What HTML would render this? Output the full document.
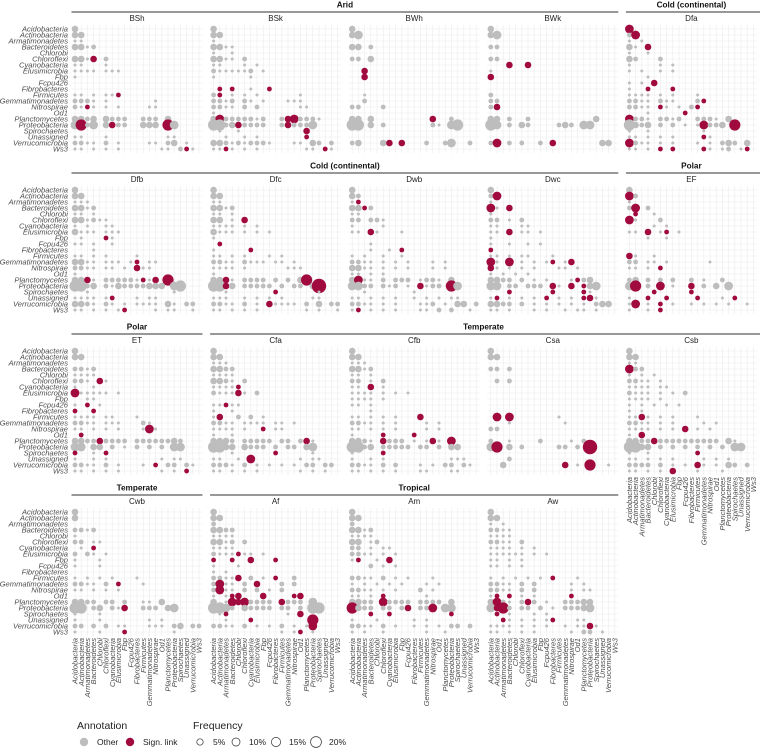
<!DOCTYPE html>
<html><head><meta charset="utf-8">
<style>
html,body{margin:0;padding:0;background:#fff;}
svg{display:block;font-family:"Liberation Sans",sans-serif;}
.rl{font-size:7.6px;font-style:italic;fill:#4d4d4d;}
.st{font-size:8px;fill:#222;}
.gt{font-size:8.2px;font-weight:bold;fill:#111;}
.lg{font-size:10.5px;fill:#222;}
.lt{font-size:8.5px;fill:#222;}
</style></head>
<body>
<svg id="chart" width="760" height="748" viewBox="0 0 760 748">
<g id="root"></g>
</svg>
<script>
const taxa = ["Acidobacteria","Actinobacteria","Armatimonadetes","Bacteroidetes","Chlorobi","Chloroflexi","Cyanobacteria","Elusimicrobia","Fbp","Fcpu426","Fibrobacteres","Firmicutes","Gemmatimonadetes","Nitrospirae","Od1","Planctomycetes","Proteobacteria","Spirochaetes","Unassigned","Verrucomicrobia","Ws3"];
const panelNames = ["BSh","BSk","BWh","BWk","Dfa","Dfb","Dfc","Dwb","Dwc","EF","ET","Cfa","Cfb","Csa","Csb","Cwb","Af","Am","Aw"];
const groupRows = [
 [["Arid",0,3],["Cold (continental)",4,4]],
 [["Cold (continental)",0,3],["Polar",4,4]],
 [["Polar",0,0],["Temperate",1,4]],
 [["Temperate",0,0],["Tropical",1,3]]
];
const legendFreq = ["5%","10%","15%","20%"];
// cell codes: '.' none, '1'-'6' grey size level, 'a'-'f' significant (red) size level
const BSh = ["3","33","11","3312","","331c.2","11...1","1111.111","1","","","11.1.11b","2221.1.......1","21b1.1.1....11","","3323.3222..222.3","4e24.3c22..333.e4","","11...1.........11","2211.2.1....11.23.1","11.1.1.1......11.2b1"];
const BSk = ["3","33","1","3311","1..1","3311.2","11...1.1","2111112.1","1.....1","",".b.b..1..b","2b.1.1.1......1","2212.21.1...111","2211.2.2......11","1","3d2222212..2cd2221","5523c2222..2c2224",".1..1..........c","..1..1.1.......b","3321212221...11.32.2","11b1.1.1.......11.b1"];
const BWh = ["3","34","","33.2","","22.3","","..c","..c","","","..1","..2","22...2","","33.3.........c..2","55.3.2.......21.45","","","23...3c.c...2..24..2",""];
const BWk = ["3","34","","22","","22","...c..c","1","c","","","2","22","2c","","33.2..2..........3","54.2.32....232.44","","","2d.2.2..2.c.......33.",""];
const Dfa = ["d","2d","1.1","31.c","1..1","32...2","1....1.1","1.1..1.1","...1","1.1.c","1..b...b","1111.1.1...1","2211.211...2b","2211.b1.1.2b","...1.....b","d221.2212..2221.3","5323.2.2.1.1d223.e","1..1........1","11.1.1.1....b1","d211.1.1...1.1.232.3","11.1.b.b....b1.12.1b"];
const Dfb = ["3","33","111","3312","11.1","331211","1.1..11","3111.111",".1...b1","11.1..1","...1","11.1.1....1","3311.111.1b.11","2211.11.1.c11","1","33c1.222221b1c.e","5523.2132222333.45","..1.............1","1111.1b...1.11","3321.21.1.1111.31.22","11.1.1.1b....1.11..1"];
const Dfc = ["3","33","11","3312","11.1","33.1.c","1111.1.1","3111.1.1.1","1",".b","1.....b","11.1.1...1.1","2211.2111.11.1","1111.1......111","1","33c1.2222.2.2.3e","55c3.22222.2.22.3f","..1.......b......1","111..1.1.1.1....11","2211.2.1.c1111.2.3.22","11.1.1.1.......1.1..1"];
const Dwb = ["3","32","1b","33b2","11","22.221","1....1","11.c1...1","","...1","...1..1.b","1.1..1..1","2211.1.1.1...1.1","3311.1.1.1...1.1","11.1.1","3d11.2.222.1221.3","4422.212.1.c122.e4","..1.......1","11.1.1.1..1.1.1.11","2211.1.1...112.1.33.2","1b.1.1.1...11.2.2..1"];
const Dwc = ["3","2d","1","d1.c","1","22.1.2","11...11","11.c.11.1","1","1..1..1.1","b","11.1.11...1","d1.d.1.1.1b.1c","c1.1.1.1...11.1","1.1.1.1","3322.2.1.1...1b23","44.22.222.c1.c.b34","...b......b....b1","1b.1.1.1.b.1.1.bc1","3322.2.1.1.1.1.1.233.","11.1...1.1..1.11.1"];
const EF = ["3","d2","1","2d.2",".b..1","d1...2","....1.1","11.c.1b.1","...1..1","","","c1..1","22.11.1......1","11.1.b","","23.2.2.2..2.1..2","4e.2.d.1..c.2.3.4","....b.....b","1..b..b....b...1.b","1d.1.b.1..1.1.1.1..1","1..1.b"];
const ET = ["3","33","","2212","1111","221.c1","1..1","d11111.1","..11","1.b.1","b..b","1111.11...1","2211.111...21","11.1.1.1...1d1",".b","3322c2222.22222232","44.33.2.1.2.2.2.44","b..1.b","1..1.1........1.11","2211.2.1...1.b.22.21","11.1.1.1......1.1.b"];
const Cfa = ["3","33","111","3322","1111","3321.2","1111b","2111c1.2","","11b11","1..1","1c..2.2.1","2211.1111.11.1","1111.1..b.11","1..1","3332.22222.22.2c1","5533.3222.2.22.34","...1......b.....1","11..1.d.......1.11","2221.2.1.1.1.1.22.22","11.1.1.1......1.1.1"];
const Cfb = ["3","33","111","3312","11.1","22.1.2","11.c.1","1111.1.1.1","1111.1","11.1","...1","11.1.1.1...c","2211.1.1....1.1","11.1.1.1....1.1","1....b....b","3321.c222.1.1c1.d","5523.22222.22.2.33","1....b","1..1.1..........111","2211.2.2...1.1.22.21","11.1.1.1...11...11"];
const Csa = ["3","33","","22.2","",".2.2","","","","","",".d.d.......1","...1........1","22","","2..1....2....1.2","4e.3.2.....22.2.f","","...2","..3.........c.1.e..1",""];
const Csb = ["3","33","11","d22","1.1.1","2211.1","1111.11","2111.1.1.2","1111.1","1.1.1.1.1","1.1","11c1.1.1...1","2211.1.1....1.1","1111.1.1.c.1.1","1.c","3322c2222222222.31","5533.2.2.2.2.2.2.44","1..1.......b","11.1.1.1....1.1.1","2222.2.1.1.c1.1.32.2","11.1.1.c...1...1"];
const Cwb = ["3","3","","2212","1","22.11",".1.b","2.21.1","1...1","1...1","","1.1.1.1...1","2211.2.b...1","11.1.1.1","","3322.22.2..11.3","55.23.21c..222.34","1...1","1...1.......1.1","22.2.2.11...111.23.22","1...1...b.......1"];
const Af = ["3","33","2","3322","1111","3312.2","1111","2111b11.1","b..b..c...b","1...1","1.1","2211c.2.1.b..2","2d11.2.c...2.2","2d11.2.2.1.2","1.1bc...c....bc","3.1dcd2222.c222.4","5542.32222.22.2.55",".1b.........1.c","..1...b.........e","2211.2.1.1.2.1.1d","...........1.1b.1"];
const Am = ["3","33","2","3312","1111","33.12","22.1.11","2211.1.1","1b..1.c","...2.1.1","","2211.2.1.1...1","1.1.1.1.1...1.1","2211.1.1...2.1","11.1.b......1","3322.d2222.2222.3","e322.22.2c.22d.44","...b..b.........b","1...1.....1.1","2211.2.1..1.1.1.22.2","1.1..1......1..1"];
const Aw = ["3","33","1.1","2211","1111","2211.2","1111.1.1","111111.1.1","11.1.1","11.1.1","","1.1.1.1.1.b...1","2211.2.2.....1.1","2211.2.2.....1.11","1b.b.1.1.....b","3d21.2c2.1..22233","4ce2.22.2.1.22234",".b.1...1.1","..b1.1.1.1b...11","1111.1.1.1..1.11c1","11.1.1.1.....1.22.1"];
const panelData = [BSh,BSk,BWh,BWk,Dfa,Dfb,Dfc,Dwb,Dwc,EF,ET,Cfa,Cfb,Csa,Csb,Cwb,Af,Am,Aw];

const NS = "http://www.w3.org/2000/svg";
const root = document.getElementById("root");
const GREY = "#bdbdbd", RED = "#a10a3e";
const radius = [0, 1.5, 2.4, 3.3, 4.4, 5.6, 7.2];
const PX0 = 75, PDX = 138.6, CDX = 6.2, PY0 = 29, PDY = 161, RDY = 6.0;
function colX(p, j){ return PX0 + (p % 5) * PDX + j * CDX; }
function rowY(p, i){ return PY0 + Math.floor(p / 5) * PDY + i * RDY; }
function mk(tag, attrs, parent){
  const e = document.createElementNS(NS, tag);
  for (const k in attrs) e.setAttribute(k, attrs[k]);
  (parent || root).appendChild(e);
  return e;
}

panelData.forEach((rows, p) => {
  const g = mk("g", {});
  
  
  const x0 = colX(p, 0) - 3.5, x1 = colX(p, 20) + 3.5;
  const y0 = rowY(p, 0) - 4, y1 = rowY(p, 20) + 4;
  for (let j = 0; j < 21; j++) mk("line", {x1: colX(p, j), x2: colX(p, j), y1: y0, y2: y1, stroke: "#ebebeb", "stroke-width": 0.6}, g);
  for (let i = 0; i < 21; i++) mk("line", {x1: x0, x2: x1, y1: rowY(p, i), y2: rowY(p, i), stroke: "#ebebeb", "stroke-width": 0.6}, g);
  const st = mk("text", {x: (x0 + x1) / 2, y: rowY(p, 0) - 8, "text-anchor": "middle", class: "st"}, g);
  st.textContent = panelNames[p];
  
  
  rows.forEach((s, i) => {
    for (let j = 0; j < s.length && j < 21; j++) {
      const ch = s[j];
      if (ch === '.' || ch === ' ') continue;
      let lvl, col;
      if (ch >= '1' && ch <= '6') { lvl = +ch; col = GREY; }
      else { lvl = ch.charCodeAt(0) - 96; col = RED; }
      const c = mk("circle", {cx: colX(p, j), cy: rowY(p, i), r: radius[lvl], fill: col}, g);
      
      
    }
  });
  if (p % 5 === 0) {
    taxa.forEach((t, i) => {
      const tx = mk("text", {x: 68, y: rowY(p, i) + 2.7, "text-anchor": "end", class: "rl"}, g);
      tx.textContent = t;
      
      
    });
  }
  if (p >= 15 || p === 14) {
    taxa.forEach((t, j) => {
      const X = colX(p, j) + 2.6, Y = rowY(p, 20) + 6;
      const tx = mk("text", {transform: "translate(" + X + "," + Y + ") rotate(-90)", "text-anchor": "end", class: "rl"}, g);
      tx.textContent = t;
      
      
    });
  }
});

groupRows.forEach((grs, r) => {
  grs.forEach(([name, a, b]) => {
    const p0 = r * 5 + a, p1 = r * 5 + b;
    const x0 = colX(p0, 0) - 3.5, x1 = Math.min(colX(p1, 20) + 3.5 + (b === 4 ? 60 : 0), 760);
    const y = rowY(p0, 0) - 17;
    const ln = mk("line", {x1: x0, x2: x1, y1: y, y2: y, stroke: "#777", "stroke-width": 1.4});
    
    
    const tx = mk("text", {x: (x0 + Math.min(x1, colX(p1, 20) + 3.5)) / 2, y: y - 4.5, "text-anchor": "middle", class: "gt"});
    tx.textContent = name;
    
    
  });
});

const lg = mk("g", {});


let t = mk("text", {x: 77, y: 729, class: "lg"}, lg); t.textContent = "Annotation";


let c = mk("circle", {cx: 84, cy: 742, r: 4.2, fill: GREY}, lg);


t = mk("text", {x: 97, y: 745, class: "lt"}, lg); t.textContent = "Other";


c = mk("circle", {cx: 130, cy: 742, r: 4.2, fill: RED}, lg);


t = mk("text", {x: 143, y: 745, class: "lt"}, lg); t.textContent = "Sign. link";


t = mk("text", {x: 193, y: 729, class: "lg"}, lg); t.textContent = "Frequency";


const fx = [200, 236, 276, 316], fr = [3.2, 4.0, 4.6, 5.4];
legendFreq.forEach((lab, k) => {
  const cc = mk("circle", {cx: fx[k], cy: 742, r: fr[k], fill: "none", stroke: "#333", "stroke-width": 0.7}, lg);
  
  
  const tt = mk("text", {x: fx[k] + 13, y: 745, class: "lt"}, lg);
  tt.textContent = lab;
  
  
});
</script>
</body></html>
